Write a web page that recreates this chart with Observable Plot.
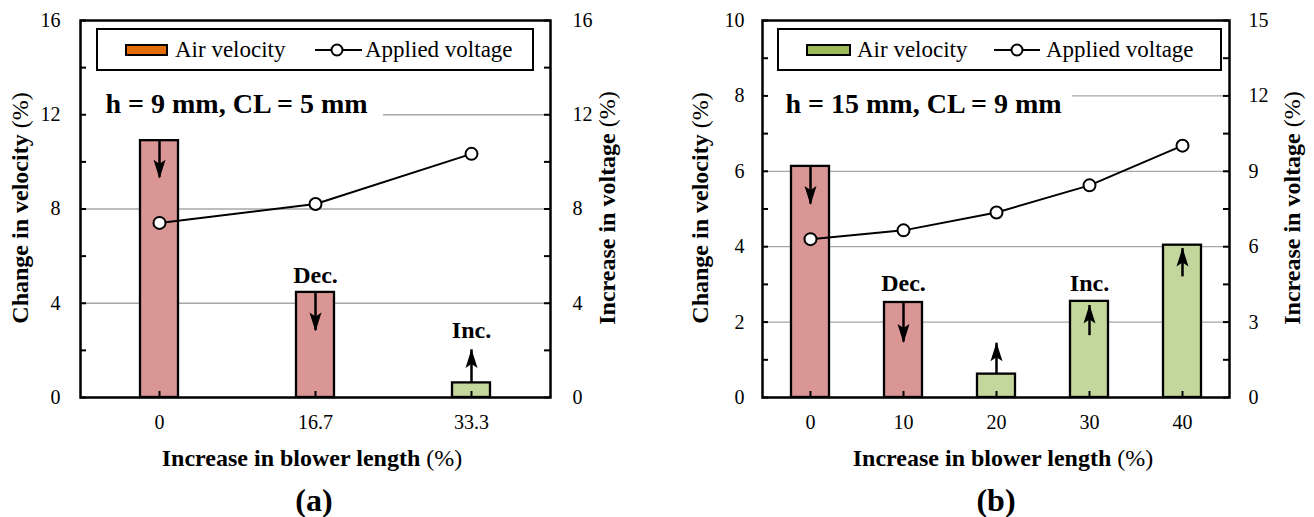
<!DOCTYPE html>
<html><head><meta charset="utf-8">
<script src="https://cdn.jsdelivr.net/npm/d3@7"></script>
<script src="https://cdn.jsdelivr.net/npm/@observablehq/plot@0.6"></script>
<style>
body{margin:0;background:#fff;}
#root{position:relative;width:1314px;height:517px;overflow:hidden;font-family:"Liberation Serif","Tinos","Times New Roman","Times","DejaVu Serif","Noto Serif",serif;color:#000;background:#fff;}
#root svg.plot{position:absolute;top:0;}
.abs{position:absolute;white-space:nowrap;line-height:1;}
.rot{transform:translate(-50%,-50%) rotate(-90deg);}
.ctr{transform:translate(-50%,-50%);}
.t{font-size:24px;font-weight:bold;}
.t span{font-weight:normal;}
.cap{font-size:32px;font-weight:bold;}
.lg{position:absolute;border:2px solid #000;background:#fff;box-sizing:border-box;}
.sw{position:absolute;border:2px solid #000;box-sizing:border-box;}
.lt{font-size:23px;}
</style></head><body><div id="root"></div>
<script>
// ---------- data ----------
const catsA = ["0", "16.7", "33.3"];
const velA = [10.9, 4.46, 0.62];
const trendA = ["dec", "dec", "inc"];
const voltA = [7.41, 8.21, 10.34];
const arrowFromA = [10.9, 4.46, 0.62];
const arrowToA = [9.33, 2.84, 2.02];
const notesA = [{cat: "16.7", y: 5.18, text: "Dec."}, {cat: "33.3", y: 2.84, text: "Inc."}];
const yTicksA = [0, 4, 8, 12, 16];
const minorA = [0, 2, 4, 6, 8, 10, 12, 14, 16];

const catsB = ["0", "10", "20", "30", "40"];
const velB = [6.13, 2.52, 0.62, 2.55, 4.04];
const trendB = ["dec", "dec", "inc", "inc", "inc"];
const voltB = [6.3, 6.65, 7.36, 8.44, 10.02];
const arrowFromB = [6.13, 2.52, 0.62, 1.64, 3.2];
const arrowToB = [5.13, 1.47, 1.44, 2.44, 3.95];
const notesB = [{cat: "10", y: 3.02, text: "Dec."}, {cat: "30", y: 3.02, text: "Inc."}];
const yTicksB = [0, 2, 4, 6, 8, 10];
const minorB = [0, 1, 2, 3, 4, 5, 6, 7, 8, 9, 10];

const PINK = "#D99694", GREEN = "#C3D69B";
const FONT = '"Liberation Serif", "Tinos", "Times New Roman", "Times", "DejaVu Serif", "Noto Serif", serif';

const headUp = {draw(ctx) { ctx.moveTo(0, -1); ctx.lineTo(6, 18); ctx.lineTo(0, 14); ctx.lineTo(-6, 18); ctx.closePath(); }};
const headDown = {draw(ctx) { ctx.moveTo(0, 1); ctx.lineTo(6, -18); ctx.lineTo(0, -14); ctx.lineTo(-6, -18); ctx.closePath(); }};

function panel(p) {
  const rows = p.cats.map((c, i) => ({cat: c, vel: p.vel[i], trend: p.trend[i], volt: p.volt[i] / p.vf, a0: p.from[i], a1: p.to[i]}));
  const up = rows.filter(r => r.trend === "inc"), down = rows.filter(r => r.trend === "dec");
  const plotW = p.width - p.ml - p.mr, plotH = p.height - p.mt - p.mb;
  const svg = Plot.plot({
    width: p.width, height: p.height,
    marginLeft: p.ml, marginRight: p.mr, marginTop: p.mt, marginBottom: p.mb,
    style: {fontFamily: FONT, fontSize: "20px", color: "#000", background: "transparent", overflow: "visible"},
    x: {type: "band", domain: p.cats, paddingInner: p.pad, paddingOuter: p.pad / 2, axis: null},
    y: {domain: p.yDomain, axis: null},
    color: {domain: ["dec", "inc"], range: [PINK, GREEN]},
    marks: [
      Plot.ruleY(p.grid, {stroke: "#a6a6a6", strokeWidth: 1.3}),
      Plot.ruleY([p.partial], {stroke: "#a6a6a6", strokeWidth: 1.3, insetLeft: p.partialInset}),
      Plot.axisX({tickSize: 0, tickPadding: 17, label: null}),
      Plot.axisY({ticks: p.yTicks, tickSize: 0, tickPadding: p.padL, label: null}),
      Plot.axisY({anchor: "right", ticks: p.yTicks, tickFormat: d => String(+(d * p.vf).toFixed(2)), tickSize: 0, tickPadding: p.padR, label: null}),
      Plot.ruleY(p.minor, {strokeWidth: 2, insetRight: plotW - 6}),
      Plot.ruleY(p.minor, {strokeWidth: 2, insetLeft: plotW - 6}),
      Plot.barY(rows, {x: "cat", y: "vel", fill: "trend", stroke: "#000", strokeWidth: 2.3}),
      Plot.ruleX(p.cats, {strokeWidth: 2, insetTop: plotH - 6}),
      Plot.ruleX(rows, {x: "cat", y1: "a0", y2: "a1", strokeWidth: 2.5}),
      Plot.dot(up, {x: "cat", y: "a1", symbol: headUp, fill: "#000", stroke: "none"}),
      Plot.dot(down, {x: "cat", y: "a1", symbol: headDown, fill: "#000", stroke: "none"}),
      Plot.line(rows, {x: "cat", y: "volt", stroke: "#000", strokeWidth: 2}),
      Plot.dot(rows, {x: "cat", y: "volt", r: 6, fill: "#fff", stroke: "#000", strokeWidth: 2}),
      Plot.text(p.notes, {x: "cat", y: "y", text: "text", fontWeight: "bold", fontSize: 24}),
      Plot.text([p.cond], {frameAnchor: "top-left", textAnchor: "start", lineAnchor: "bottom", dx: p.condDx, dy: 92, fontSize: 28, fontWeight: "bold"}),
      Plot.frame({stroke: "#000", strokeWidth: 2.5})
    ]
  });
  svg.classList.add("plot");
  svg.style.left = p.left + "px";
  return svg;
}

const root = document.getElementById("root");
root.appendChild(panel({
  left: 0, width: 660, height: 517, ml: 80, mr: 110, mt: 20, mb: 120,
  cats: catsA, vel: velA, trend: trendA, volt: voltA, vf: 1, from: arrowFromA, to: arrowToA,
  notes: notesA, yDomain: [0, 16], yTicks: yTicksA, minor: minorA, grid: [4, 8], partial: 12, partialInset: 303,
  pad: 0.755, padL: 20, padR: 22, cond: "h = 9 mm, CL = 5 mm", condDx: 25
}));
root.appendChild(panel({
  left: 660, width: 654, height: 517, ml: 102, mr: 85, mt: 20, mb: 120,
  cats: catsB, vel: velB, trend: trendB, volt: voltB, vf: 1.5, from: arrowFromB, to: arrowToB,
  notes: notesB, yDomain: [0, 10], yTicks: yTicksB, minor: minorB, grid: [2, 4, 6], partial: 8, partialInset: 310,
  pad: 0.593, padL: 18, padR: 19, cond: "h = 15 mm, CL = 9 mm", condDx: 23
}));

// ---------- HTML overlays: titles, captions, legends ----------
function add(html) { root.insertAdjacentHTML("beforeend", html); }
const yTitleL = 'Change in velocity <span>(%)</span>';
const yTitleR = 'Increase in voltage <span>(%)</span>';
const xTitle = 'Increase in blower length <span>(%)</span>';
add(`<div class="abs t rot" style="left:20px;top:208px">${yTitleL}</div>`);
add(`<div class="abs t rot" style="left:607px;top:208px">${yTitleR}</div>`);
add(`<div class="abs t rot" style="left:700px;top:208px">${yTitleL}</div>`);
add(`<div class="abs t rot" style="left:1292px;top:208px">${yTitleR}</div>`);
add(`<div class="abs t ctr" style="left:312px;top:458px">${xTitle}</div>`);
add(`<div class="abs t ctr" style="left:1003px;top:458px">${xTitle}</div>`);
add(`<div class="abs cap ctr" style="left:314px;top:500px">(a)</div>`);
add(`<div class="abs cap ctr" style="left:996px;top:500px">(b)</div>`);

function legend(o) {
  add(`<div class="lg" style="left:${o.x0}px;top:28px;width:${o.x1 - o.x0}px;height:43px"></div>`);
  add(`<div class="sw" style="left:${o.s0}px;top:44px;width:${o.s1 - o.s0}px;height:12px;background:${o.color}"></div>`);
  add(`<div class="abs lt" style="left:${o.t1}px;top:38px">Air velocity</div>`);
  add(`<svg style="position:absolute;left:${o.l0 - 2}px;top:40px" width="${o.l1 - o.l0 + 4}" height="20"><line x1="2" x2="${o.l1 - o.l0 + 2}" y1="10" y2="10" stroke="#000" stroke-width="2"/><circle cx="${o.c - o.l0 + 2}" cy="10" r="5.5" fill="#fff" stroke="#000" stroke-width="2"/></svg>`);
  add(`<div class="abs lt" style="left:${o.t2}px;top:38px">Applied voltage</div>`);
}
legend({x0: 96, x1: 534, s0: 125, s1: 168, t1: 175, l0: 315, l1: 362, c: 337, t2: 365, color: "#E36C09"});
legend({x0: 777, x1: 1222, s0: 806, s1: 851, t1: 857, l0: 994, l1: 1040, c: 1017, t2: 1046, color: "#9BBB59"});
</script>
</body></html>
